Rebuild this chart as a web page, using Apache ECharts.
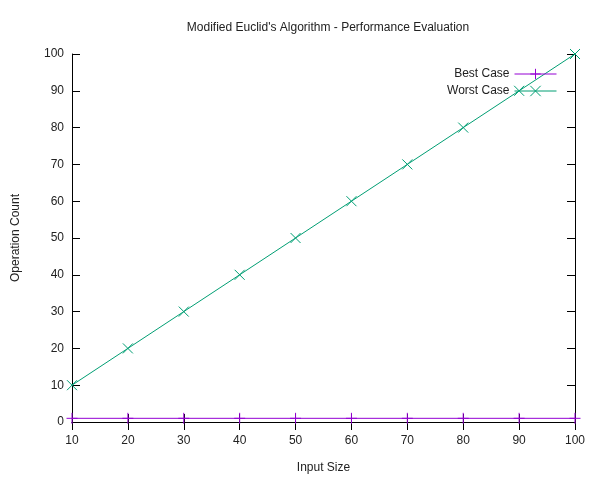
<!DOCTYPE html>
<html>
<head>
<meta charset="utf-8">
<script src="https://cdn.jsdelivr.net/npm/echarts@6/dist/echarts.min.js"></script>
<style>
  html, body { margin: 0; padding: 0; background: #fff; }
  #chart { width: 600px; height: 480px; }
</style>
</head>
<body>
<div id="chart"></div>
<script>
const inputSizes = [10, 20, 30, 40, 50, 60, 70, 80, 90, 100];
const bestCase = [1, 1, 1, 1, 1, 1, 1, 1, 1, 1];
const worstCase = [10, 20, 30, 40, 50, 60, 70, 80, 90, 100];

const plusSymbol = 'path://M0,5L10,5M5,0L5,10';
const crossSymbol = 'path://M0,0L10,10M10,0L0,10';
const font = 'Liberation Sans, Arial, sans-serif';

function pairs(xs, ys) {
    return xs.map((x, i) => [x, ys[i]]);
}

function axisBase(extra) {
    return Object.assign({
        type: 'value',
        splitLine: { show: false },
        axisLine: { show: true, lineStyle: { color: '#000', width: 1 } },
        axisTick: { show: true, inside: true, length: 8, lineStyle: { color: '#000' } },
        axisLabel: { color: '#222', fontSize: 12, fontFamily: font },
        nameTextStyle: { color: '#222', fontSize: 12, fontFamily: font }
    }, extra);
}

const chart = echarts.init(document.getElementById('chart'));

chart.setOption({
    animation: false,
    backgroundColor: '#fff',
    title: {
        text: "Modified Euclid's Algorithm - Performance Evaluation",
        left: 323,
        textAlign: 'center',
        top: 17,
        textStyle: { color: '#222', fontSize: 12, fontWeight: 'normal', fontFamily: font }
    },
    grid: { left: 72, right: 25, top: 54, bottom: 58 },
    legend: {
        orient: 'vertical',
        right: 38,
        top: 63,
        align: 'right',
        itemGap: 5,
        itemWidth: 42,
        itemHeight: 13,
        lineStyle: { width: 1 },
        itemStyle: { borderWidth: 1 },
        textStyle: { color: '#222', fontSize: 12, width: 80, align: 'right', fontFamily: font },
        data: ['Best Case', 'Worst Case']
    },
    xAxis: [
        axisBase({
            min: 10, max: 100, interval: 10,
            name: 'Input Size', nameLocation: 'middle', nameGap: 40,
            axisLabel: { color: '#222', fontSize: 12, margin: 13, fontFamily: font }
        }),
        axisBase({
            position: 'top', min: 10, max: 100, interval: 10,
            axisLabel: { show: false }
        })
    ],
    yAxis: [
        axisBase({
            min: 0, max: 100, interval: 10,
            name: 'Operation Count', nameLocation: 'middle', nameGap: 50, nameRotate: 90,
            axisLabel: { color: '#222', fontSize: 12, margin: 8, fontFamily: font }
        }),
        axisBase({
            position: 'right', min: 0, max: 100, interval: 10,
            axisLabel: { show: false }
        })
    ],
    series: [
        {
            name: 'Best Case',
            type: 'line',
            data: pairs(inputSizes, bestCase),
            symbol: plusSymbol,
            symbolSize: 11,
            showAllSymbol: true,
            lineStyle: { color: '#9400d3', width: 1 },
            itemStyle: { color: '#9400d3', borderColor: '#9400d3', borderWidth: 1 }
        },
        {
            name: 'Worst Case',
            type: 'line',
            data: pairs(inputSizes, worstCase),
            symbol: crossSymbol,
            symbolSize: 10,
            showAllSymbol: true,
            lineStyle: { color: '#009e73', width: 1 },
            itemStyle: { color: '#009e73', borderColor: '#009e73', borderWidth: 1 }
        }
    ]
});
</script>
</body>
</html>
